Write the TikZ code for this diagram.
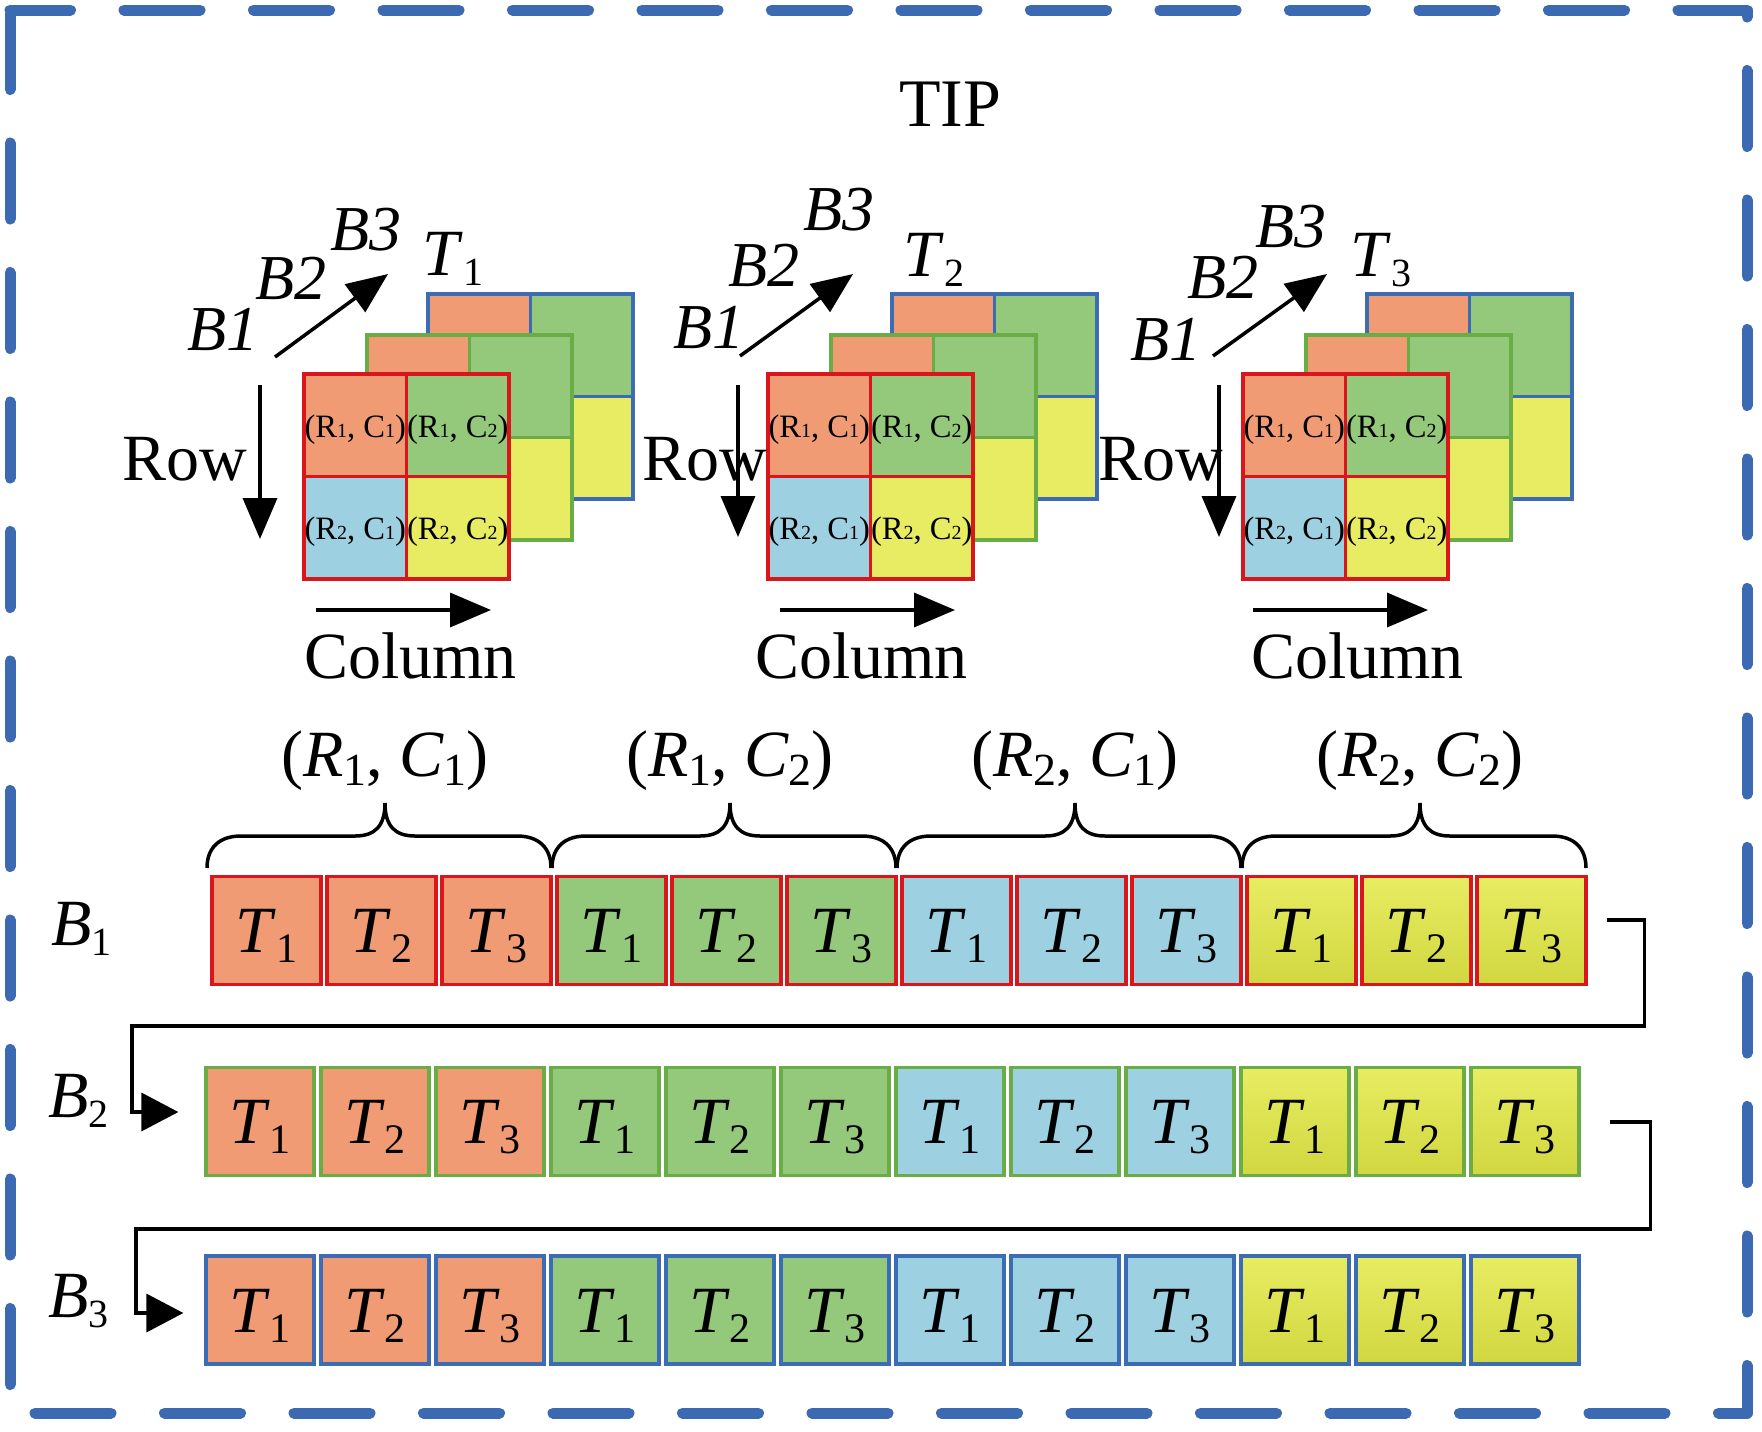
\documentclass[tikz,border=0pt]{standalone}
\usepackage{fontspec}
\setmainfont{Liberation Serif}
\usetikzlibrary{arrows.meta,calc}
\definecolor{cor}{RGB}{240,155,116}
\definecolor{cgr}{RGB}{148,201,123}
\definecolor{cbl}{RGB}{157,209,226}
\definecolor{cye}{RGB}{232,236,98}
\definecolor{cyeb}{RGB}{209,215,64}
\definecolor{lred}{RGB}{217,22,28}
\definecolor{lgreen}{RGB}{106,172,70}
\definecolor{lblue}{RGB}{60,108,180}
\definecolor{dblue}{RGB}{60,106,178}
\newcommand{\Tx}[1]{\textit{T}\raisebox{-5pt}{\fontsize{21}{21}\selectfont #1}}
\newcommand{\Bx}[1]{\textit{B}\raisebox{-5pt}{\fontsize{20}{20}\selectfont #1}}
\newcommand{\RC}[2]{(\textit{R}\raisebox{-4.5pt}{\fontsize{23}{23}\selectfont #1}, \textit{C}\raisebox{-4.5pt}{\fontsize{23}{23}\selectfont #2})}
\newcommand{\rc}[2]{(R{\fontsize{10}{10}\selectfont #1}, C{\fontsize{10}{10}\selectfont #2})}
\newcommand{\Tc}[1]{\textit{T}\raisebox{-5pt}{\fontsize{20}{20}\selectfont #1}}
\tikzset{
  tbox/.style={draw, line width=1.6pt, minimum height=54pt, inner sep=0pt,
    text height=22pt, text depth=0pt, font=\fontsize{33}{33}\selectfont},
  gfill/.code={\ifcase#1\pgfkeysalso{fill=cor}\or\pgfkeysalso{fill=cgr}\or\pgfkeysalso{fill=cbl}\or\pgfkeysalso{top color=cye,bottom color=cyeb}\fi},
  cell/.style={draw=lred, line width=1.85pt, minimum size=51.25pt, inner sep=0pt,
    text height=12pt, text depth=0pt, font=\fontsize{16.3}{16.3}\selectfont},
  lab/.style={inner sep=0pt, anchor=base west},
  clab/.style={inner sep=0pt, anchor=base},
  big/.style={font=\fontsize{33}{33}\selectfont},
  bl/.style={font=\fontsize{32}{32}\selectfont\itshape},
  arr/.style={line width=1.75pt, -{Triangle[length=20.5pt,width=17pt]}},
  conn/.style={line width=1.7pt, -{Triangle[length=18.5pt,width=19pt]}},
  bracepath/.style={line width=1.75pt},
  frame/.style={draw=dblue, line width=5.5pt, line cap=round, line join=round,
    dash pattern=on 38pt off 26.75pt, dash phase=7.75pt},
  sqline/.style={line width=1.85pt}
}
\begin{document}
\begin{tikzpicture}[x=0.5pt,y=-0.5pt]
\useasboundingbox (0,0) rectangle (1762,1431);
\draw[frame] (10,10) -- (1747,10) -- (1747,1413) -- (10,1413) -- cycle;

\node[clab, font=\fontsize{34}{34}\selectfont] (tip) at (950,126) {TIP};

% ---------- cubes ----------
\foreach \c/\X in {1/304,2/768,3/1243}{
  \foreach \dx/\dy/\lc in {124/-80/lblue,63/-39/lgreen}{
    \fill[cor] (\X+\dx,374+\dy) rectangle ++(102.5,102.5);
    \fill[cgr] (\X+\dx+102.5,374+\dy) rectangle ++(102.5,102.5);
    \fill[cbl] (\X+\dx,476.5+\dy) rectangle ++(102.5,102.5);
    \fill[cye] (\X+\dx+102.5,476.5+\dy) rectangle ++(102.5,102.5);
    \draw[sqline,\lc] (\X+\dx,374+\dy) rectangle ++(205,205);
    \draw[sqline,\lc] (\X+\dx+102.5,374+\dy) -- ++(0,205);
    \draw[sqline,\lc] (\X+\dx,476.5+\dy) -- ++(205,0);
  }
  \node[cell, fill=cor] (c\c-11) at (\X+51.25,425.25) {\rc{1}{1}};
  \node[cell, fill=cgr] (c\c-12) at (\X+153.75,425.25) {\rc{1}{2}};
  \node[cell, fill=cbl] (c\c-21) at (\X+51.25,527.75) {\rc{2}{1}};
  \node[cell, fill=cye] (c\c-22) at (\X+153.75,527.75) {\rc{2}{2}};
}

% cube 1 labels
\node[lab,big] (row1) at (122,480) {Row};
\node[clab,big] (col1) at (410.5,678) {Column};
\node[lab,bl] (b11) at (187,350) {B1};
\node[lab,bl] (b12) at (255,299) {B2};
\node[lab,bl] (b13) at (330,250) {B3};
\node[lab,big] (t1) at (422,275) {\Tc{1}};
\coordinate (r1s) at (260,385); \coordinate (r1e) at (260,539);
\coordinate (k1s) at (316,610); \coordinate (k1e) at (491,610);
\coordinate (d1s) at (275,357); \coordinate (d1e) at (388,274);
\draw[arr] (r1s) -- (r1e);
\draw[arr] (k1s) -- (k1e);
\draw[arr] (d1s) -- (d1e);

% cube 2 labels
\node[lab,big] (row2) at (642,480) {Row};
\node[clab,big] (col2) at (861.5,678) {Column};
\node[lab,bl] (b21) at (673,348) {B1};
\node[lab,bl] (b22) at (728,286) {B2};
\node[lab,bl] (b23) at (803,230) {B3};
\node[lab,big] (t2) at (903,276) {\Tc{2}};
\coordinate (r2s) at (738,385); \coordinate (r2e) at (738,537);
\coordinate (k2s) at (780,610); \coordinate (k2e) at (955,610);
\coordinate (d2s) at (740,356); \coordinate (d2e) at (853,274);
\draw[arr] (r2s) -- (r2e);
\draw[arr] (k2s) -- (k2e);
\draw[arr] (d2s) -- (d2e);

% cube 3 labels
\node[lab,big] (row3) at (1098,480) {Row};
\node[clab,big] (col3) at (1357.5,678) {Column};
\node[lab,bl] (b31) at (1130,360) {B1};
\node[lab,bl] (b32) at (1187,298) {B2};
\node[lab,bl] (b33) at (1255,247) {B3};
\node[lab,big] (t3) at (1350,276) {\Tc{3}};
\coordinate (r3s) at (1219,385); \coordinate (r3e) at (1219,537);
\coordinate (k3s) at (1253,610); \coordinate (k3e) at (1428,610);
\coordinate (d3s) at (1213,356); \coordinate (d3e) at (1327,274);
\draw[arr] (r3s) -- (r3e);
\draw[arr] (k3s) -- (k3e);
\draw[arr] (d3s) -- (d3e);

% ---------- braces ----------
\foreach \k/\a/\b in {0/1/1,1/1/2,2/2/1,3/2/2}{
  \pgfmathsetmacro\L{207+345*\k}
  \pgfmathsetmacro\R{\L+344}
  \pgfmathsetmacro\T{\L+178}
  \draw[bracepath] (\L,868) .. controls (\L,848) and (\L+12,836) .. (\L+34,836)
     -- (\T-30,836) .. controls (\T-10,836) and (\T,826) .. (\T,803)
     .. controls (\T,826) and (\T+10,836) .. (\T+30,836)
     -- (\R-34,836) .. controls (\R-12,836) and (\R,848) .. (\R,868);
  \node[clab,big] (br\k) at (\T,776) {\RC{\a}{\b}};
}

% ---------- sequence rows ----------
\foreach \r/\lc/\xo/\yc/\w in {1/lred/212/930.5/54.5, 2/lgreen/206/1121.5/54, 3/lblue/206/1310/54}{
  \foreach \g in {0,1,2,3}{
    \foreach \ti in {1,2,3}{
      \pgfmathtruncatemacro\kk{3*\g+\ti}
      \node[tbox, draw=\lc, gfill=\g, minimum width=\w pt] (b\r-\kk) at ({\xo+115*(\kk-1)+\w},\yc) {\Tx{\ti}};
    }
  }
}
\node[lab,big] (lb1) at (51,945) {\Bx{1}};
\node[lab,big] (lb2) at (48,1117) {\Bx{2}};
\node[lab,big] (lb3) at (48,1317) {\Bx{3}};

\draw[conn] ($(b1-12.east)+(19,-10.5)$) -- ++(38,0) |- (132,1026) |- ($(b2-1.west)+(-26,-9.5)$);
\draw[conn] ($(b2-12.east)+(29,0.5)$) -- ++(41,0) |- (136,1229) |- ($(b3-1.west)+(-21,3)$);
\end{tikzpicture}
\end{document}
